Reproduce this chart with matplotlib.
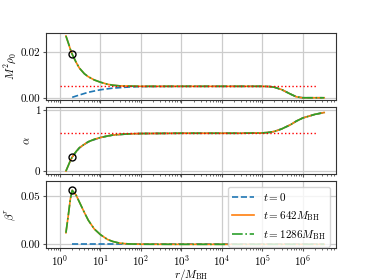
# Profiles of rho_0, alpha and beta^r against r/M_BH at three times

import numpy as np
import matplotlib.pyplot as plt

plt.rcParams['font.family'] = 'serif'
plt.rcParams['font.serif'] = ['cmr10']
plt.rcParams['mathtext.fontset'] = 'cm'
plt.rcParams['axes.formatter.use_mathtext'] = True
plt.rcParams['font.size'] = 8

# radii (r / M_BH) for the evolved profiles
r = [1.4, 1.6, 1.8, 2.0, 2.5, 3.0, 4.0, 5.0, 7.0, 10.0, 15.0, 20.0, 30.0, 50.0,
     100.0, 1e3, 1e4, 3e4, 1e5, 1.5e5, 2e5, 3e5, 5e5, 7e5, 1e6, 2e6, 3.4e6]

# t = 642 M_BH and t = 1286 M_BH (they lie on top of each other)
rho_642 = [0.027, 0.024, 0.0212, 0.019, 0.0155, 0.013, 0.0105, 0.0092, 0.0078, 0.0068,
           0.0059, 0.0055, 0.0052, 0.0051, 0.005, 0.005, 0.005, 0.005, 0.005, 0.0049,
           0.0046, 0.0036, 0.0016, 0.0004, 0.0, 0.0, 0.0]
rho_1286 = rho_642
alpha_642 = [0.0, 0.09, 0.17, 0.23, 0.32, 0.38, 0.44, 0.48, 0.52, 0.55, 0.575, 0.59,
             0.60, 0.61, 0.615, 0.62, 0.62, 0.62, 0.625, 0.635, 0.65, 0.69, 0.76,
             0.82, 0.87, 0.93, 0.96]
alpha_1286 = alpha_642
beta_642 = [0.012, 0.03, 0.047, 0.056, 0.051, 0.044, 0.033, 0.025, 0.016, 0.010,
            0.005, 0.003, 0.0012, 0.0004, 0.0001, 0.0, 0.0, 0.0, 0.0, 0.0, 0.0, 0.0,
            0.0, 0.0, 0.0, 0.0, 0.0]
beta_1286 = beta_642

# t = 0 initial data
r0 = [2.0, 3.0, 5.0, 10.0, 20.0, 50.0, 100.0, 1e3, 1e4, 3e4, 1e5, 1.5e5, 2e5, 3e5,
      5e5, 7e5, 1e6, 2e6, 3.4e6]
rho_0 = [0.0002, 0.0012, 0.0024, 0.0035, 0.0042, 0.0047, 0.0049, 0.005, 0.005, 0.005,
         0.005, 0.0049, 0.0046, 0.0036, 0.0016, 0.0004, 0.0, 0.0, 0.0]
alpha_0 = [0.23, 0.38, 0.48, 0.55, 0.59, 0.61, 0.615, 0.62, 0.62, 0.62, 0.625, 0.635,
           0.65, 0.69, 0.76, 0.82, 0.87, 0.93, 0.96]
beta_0 = [0.0] * len(r0)

# reference (dotted) values
r_ref = [1.0, 2.1e6]
rho_ref = [0.005, 0.005]
alpha_ref = [0.62, 0.62]

# marked point
r_mark = 2.0
rho_mark = 0.019
alpha_mark = 0.23
beta_mark = 0.056

fig, axes = plt.subplots(3, 1, figsize=(3.74, 2.8), dpi=100, sharex=True)
fig.subplots_adjust(left=0.123, right=0.898, top=0.882, bottom=0.114, hspace=0.11)

panels = [
    (rho_0, rho_642, rho_1286, rho_ref, rho_mark, r'$M^2\rho_0$'),
    (alpha_0, alpha_642, alpha_1286, alpha_ref, alpha_mark, r'$\alpha$'),
    (beta_0, beta_642, beta_1286, None, beta_mark, r'$\beta^r$'),
]

for ax, (y0, y1, y2, yref, ymark, lab) in zip(axes, panels):
    ax.plot(r0, y0, '--', color='tab:blue', lw=1.2, label=r'$t=0$')
    ax.plot(r, y1, '-', color='tab:orange', lw=1.2, label=r'$t=642M_{\rm BH}$')
    ax.plot(r, y2, '-.', color='tab:green', lw=1.2, label=r'$t=1286M_{\rm BH}$')
    if yref is not None:
        ax.plot(r_ref, yref, ':', color='red', lw=1.0)
    ax.plot([r_mark], [ymark], 'o', mfc='none', mec='black', ms=5, mew=1.0)
    ax.set_xscale('log')
    ax.set_ylabel(lab, labelpad=2)
    ax.grid(True, color='#cccccc', lw=0.9)
    ax.set_axisbelow(True)
    for s in ax.spines.values():
        s.set_color('#333333')
    ax.tick_params(axis='y', length=2, pad=2, color='#555555')
    ax.tick_params(axis='x', which='major', length=2, pad=2, color='#555555')
    ax.tick_params(axis='x', which='minor', length=1.5, color='#555555')

axes[0].set_ylim(-0.0009, 0.0283)
axes[0].set_yticks([0.0, 0.02])
axes[0].set_yticklabels(['0.00', '0.02'])
axes[1].set_ylim(-0.048, 1.048)
axes[1].set_yticks([0, 1])
axes[1].set_yticklabels(['0', '1'])
axes[2].set_ylim(-0.0039, 0.0654)
axes[2].set_yticks([0.0, 0.05])
axes[2].set_yticklabels(['0.00', '0.05'])

axes[2].set_xlim(0.45, 6.6e6)
axes[2].set_xlabel(r'$r/M_{\rm BH}$', labelpad=-1)
axes[2].legend(loc='upper right', fontsize=8, edgecolor='#cccccc')

plt.savefig('out.png', dpi=100)
